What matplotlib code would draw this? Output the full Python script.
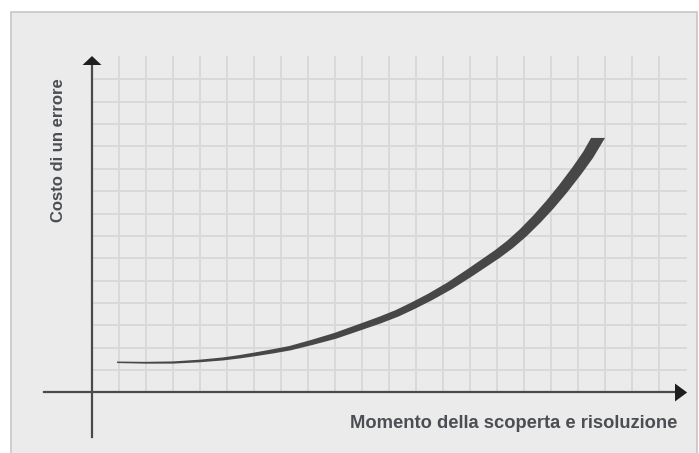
# Cost of an error vs. moment of discovery - schematic chart

import numpy as np
import matplotlib
matplotlib.use('Agg')
import matplotlib.pyplot as plt
from matplotlib.patches import Rectangle

# Curve, in grid units (one grid cell = 1)
curve_x = [0.93, 1.96, 3.0, 4.0, 4.85, 5.48, 6.11, 6.70, 7.33, 8.15,
           9.0, 10.04, 10.67, 11.30, 11.89, 12.52, 13.26, 14.0, 15.0,
           15.48, 15.96, 16.48, 16.96, 17.44, 17.96, 18.37, 18.74]
curve_y = [1.35, 1.33, 1.34, 1.41, 1.50, 1.60, 1.72, 1.84, 1.98, 2.24,
           2.53, 2.97, 3.24, 3.54, 3.88, 4.27, 4.78, 5.36, 6.18,
           6.62, 7.13, 7.76, 8.40, 9.10, 9.92, 10.62, 11.38]
curve_w = [1.5, 1.8, 2.2, 2.6, 3.0, 3.4, 3.8, 4.2, 4.5, 5.2,
           6.0, 6.5, 6.8, 7.0, 7.3, 7.5, 8.0, 8.5, 9.0,
           9.3, 9.7, 10.1, 10.5, 10.9, 11.2, 11.6, 12.0]  # thickness in px

grid_x = list(range(1, 22))
grid_y = list(range(1, 15))

x_label = 'Momento della scoperta e risoluzione'
y_label = 'Costo di un errore'

W, H = 699, 453
fig = plt.figure(figsize=(W / 100, H / 100), dpi=100)
fig.patch.set_facecolor('white')

# grey panel behind everything
panel = Rectangle((11 / W, -0.1), (697 - 11) / W, (H - 12) / H + 0.1,
                  transform=fig.transFigure, facecolor='#ebebeb',
                  edgecolor='#c6c6c6', lw=1.2, zorder=0)
fig.add_artist(panel)

ax = fig.add_axes([30 / W, 8 / H, 665 / W, 395 / H])
ax.set_xlim(-2.296, 22.33)
ax.set_ylim(-2.347, 15.31)
ax.axis('off')

# grid
for gx in grid_x:
    ax.plot([gx, gx], [0, 15], color='#d8d8d8', lw=1.3, zorder=1)
for gy in grid_y:
    ax.plot([0, 22], [gy, gy], color='#d8d8d8', lw=1.3, zorder=1)

# axes with arrow heads
axis_col = '#4a4a4a'
ax.plot([0, 0], [-1.99, 14.7], color=axis_col, lw=1.6, zorder=3)
ax.plot([-1.78, 21.65], [0, 0], color=axis_col, lw=1.6, zorder=3)
ax.fill([-0.35, 0.35, 0], [14.64, 14.64, 15.04], color='#1e1e1e', zorder=4, lw=0)
ax.fill([21.59, 21.59, 22.04], [-0.4, 0.4, 0], color='#1e1e1e', zorder=4, lw=0)

# tapered curve, built as a polygon in pixel space
pts = ax.transData.transform(np.column_stack([curve_x, curve_y]))
tang = np.gradient(pts, axis=0)
tang = tang / np.linalg.norm(tang, axis=1)[:, None]
normal = np.column_stack([-tang[:, 1], tang[:, 0]])
half = np.array(curve_w)[:, None] / 2
left = pts + normal * half
right = pts - normal * half
# flat horizontal cap at the top end
sin_t = abs(tang[-1, 1])
left[-1] = pts[-1] + [-half[-1, 0] / sin_t, 0]
right[-1] = pts[-1] + [half[-1, 0] / sin_t, 0]
poly = np.vstack([left, right[::-1]])
poly = ax.transData.inverted().transform(poly)
ax.fill(poly[:, 0], poly[:, 1], color='#474747', lw=0, zorder=5,
        joinstyle='round')

# labels
fig.text(677 / W, 1 - 423 / H, x_label, ha='right', va='center',
         fontsize=13.2, fontweight='bold', color='#4b4e52',
         family='Liberation Sans')
fig.text(59 / W, 1 - 150 / H, y_label, rotation=90, ha='center',
         va='center', fontsize=12, fontweight='bold', color='#4b4e52',
         family='Liberation Sans')

fig.savefig('out.png', dpi=100)
plt.close()
